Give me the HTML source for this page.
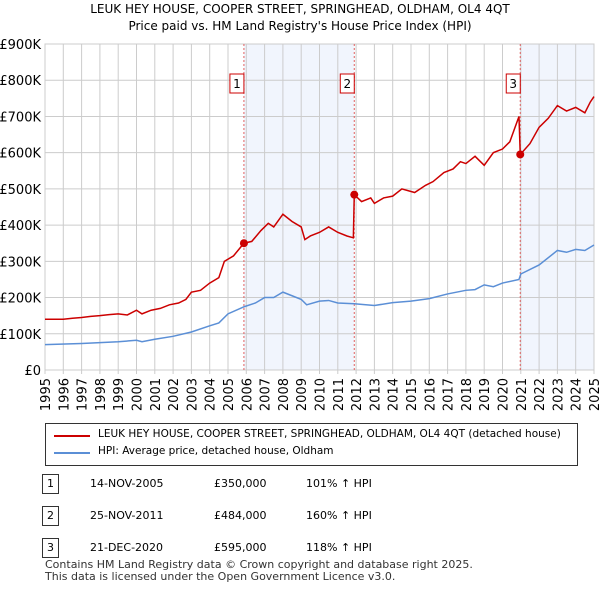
<!DOCTYPE html>
<html><head><meta charset="utf-8"><style>
body{margin:0;background:#fff;font-family:"DejaVu Sans","Liberation Sans",sans-serif;}
#wrap{position:relative;width:600px;height:590px;overflow:hidden}
.t{position:absolute;font-size:12px;color:#000;white-space:nowrap}
svg text{font-family:"DejaVu Sans","Liberation Sans",sans-serif}
</style></head><body><div id="wrap">
<div class="t" style="left:0;width:600px;text-align:center;top:2px;font-size:12px">LEUK HEY HOUSE, COOPER STREET, SPRINGHEAD, OLDHAM, OL4 4QT</div>
<div class="t" style="left:0;width:600px;text-align:center;top:19px;font-size:12px">Price paid vs. HM Land Registry's House Price Index (HPI)</div>
<svg id="plot" width="600" height="420" style="position:absolute;left:0;top:0"></svg>
<div style="position:absolute;left:45px;top:423px;width:531px;height:41px;border:1px solid #333;background:#fff">
<div style="position:absolute;left:8px;top:11px;width:36px;border-top:2px solid #cc0000"></div>
<div class="t" style="left:52px;top:4px;font-size:10.5px">LEUK HEY HOUSE, COOPER STREET, SPRINGHEAD, OLDHAM, OL4 4QT (detached house)</div>
<div style="position:absolute;left:8px;top:28px;width:36px;border-top:2px solid #5b8fd6"></div>
<div class="t" style="left:52px;top:21px;font-size:10.5px">HPI: Average price, detached house, Oldham</div>
</div>
<div id="tbl"></div>
<div class="t" style="left:45px;top:559px;font-size:11px;color:#333;line-height:12px">Contains HM Land Registry data © Crown copyright and database right 2025.<br>This data is licensed under the Open Government Licence v3.0.</div>
</div>
<script>
const redX=[1995,1996,1996.5,1997,1997.5,1998,1998.5,1999,1999.5,2000,2000.3,2000.8,2001.3,2001.8,2002.3,2002.7,2003,2003.5,2004,2004.5,2004.8,2005.3,2005.87,2006.3,2006.8,2007.2,2007.5,2008,2008.5,2009,2009.2,2009.5,2010,2010.5,2011,2011.5,2011.85,2011.9,2012.3,2012.8,2013,2013.5,2014,2014.5,2015.2,2015.8,2016.2,2016.8,2017.3,2017.7,2018,2018.5,2019,2019.5,2020,2020.4,2020.9,2020.97,2021.5,2022,2022.5,2023,2023.5,2024,2024.5,2024.8,2025];
const redY=[140,140,143,145,148,150,153,155,152,165,155,165,170,180,185,195,215,220,240,255,300,315,350,355,385,405,395,430,410,395,360,370,380,395,380,370,365,484,465,475,460,475,480,500,490,510,520,545,555,575,570,590,565,600,610,630,700,595,625,670,695,730,715,725,710,740,755];
const hpiX=[1995,1997,1999,2000,2000.3,2001,2002,2003,2004,2004.5,2005,2005.9,2006.5,2007,2007.5,2008,2008.5,2009,2009.3,2010,2010.5,2011,2011.9,2013,2014,2015,2016,2017,2018,2018.5,2019,2019.5,2020,2020.9,2021,2022,2023,2023.5,2024,2024.5,2025];
const hpiY=[70,73,78,82,78,85,93,105,122,130,155,175,185,200,200,215,205,195,180,190,192,185,183,178,186,190,197,210,220,222,235,230,240,250,265,290,330,325,333,330,345];
const saleX=[2005.87,2011.9,2020.97];
const saleY=[350,484,595];
const saleLabels=["1","2","3"];
const saleDates=["14-NOV-2005","25-NOV-2011","21-DEC-2020"];
const salePrices=["£350,000","£484,000","£595,000"];
const saleHpi=["101% ↑ HPI","160% ↑ HPI","118% ↑ HPI"];
const yTicks=[0,100,200,300,400,500,600,700,800,900];
const yTickLabels=["£0","£100K","£200K","£300K","£400K","£500K","£600K","£700K","£800K","£900K"];
const xTicks=[1995,1996,1997,1998,1999,2000,2001,2002,2003,2004,2005,2006,2007,2008,2009,2010,2011,2012,2013,2014,2015,2016,2017,2018,2019,2020,2021,2022,2023,2024,2025];
const X0=45,X1=594,Y0=370,Y1=44;
const xs=v=>X0+(v-1995)/30*(X1-X0);
const ys=v=>Y0-v/900*(Y0-Y1);
const svg=document.getElementById('plot');const NS='http://www.w3.org/2000/svg';
function mk(t,a){const e=document.createElementNS(NS,t);for(const k in a)e.setAttribute(k,a[k]);svg.appendChild(e);return e;}
let e;
e=mk('rect',{x:xs(saleX[0]),y:Y1,width:xs(saleX[1])-xs(saleX[0]),height:Y0-Y1,fill:'#eef3fc',opacity:0.8});


e=mk('rect',{x:xs(saleX[2]),y:Y1,width:X1-xs(saleX[2]),height:Y0-Y1,fill:'#eef3fc',opacity:0.8});


yTicks.forEach((v,i)=>{
e=mk('line',{x1:X0,x2:X1,y1:ys(v),y2:ys(v),stroke:'#ccc'});


e=mk('text',{x:X0-4,y:ys(v)+5,'text-anchor':'end','font-size':13,fill:'#000'});e.textContent=yTickLabels[i];


});
xTicks.forEach(v=>{
e=mk('line',{x1:xs(v),x2:xs(v),y1:Y1,y2:Y0+4,stroke:'#ccc'});


const tx=xs(v)+5,ty=Y0+8;
e=mk('text',{x:tx,y:ty,'text-anchor':'end','font-size':13,fill:'#000',transform:`rotate(-90 ${tx} ${ty})`});e.textContent=v;


});
e=mk('rect',{x:X0,y:Y1,width:X1-X0,height:Y0-Y1,fill:'none',stroke:'#ccc'});


saleX.forEach((v,i)=>{
e=mk('line',{x1:xs(v),x2:xs(v),y1:Y1,y2:Y0,stroke:'#e06060','stroke-dasharray':'2,2'});


e=mk('rect',{x:xs(v)-14,y:74,width:14,height:19,fill:'#fff',stroke:'#cc0000'});


e=mk('text',{x:xs(v)-7,y:88,'text-anchor':'middle','font-size':12});e.textContent=saleLabels[i];


});
e=mk('polyline',{points:hpiX.map((v,i)=>xs(v)+','+ys(hpiY[i])).join(' '),fill:'none',stroke:'#5b8fd6','stroke-width':1.5});


e=mk('polyline',{points:redX.map((v,i)=>xs(v)+','+ys(redY[i])).join(' '),fill:'none',stroke:'#cc0000','stroke-width':1.5});


saleX.forEach((v,i)=>{
e=mk('circle',{cx:xs(v),cy:ys(saleY[i]),r:4,fill:'#cc0000'});


});
const tbl=document.getElementById('tbl');
saleLabels.forEach((l,i)=>{
const top=474+i*32;
const r=document.createElement('div');


r.innerHTML=`<div style="position:absolute;left:42px;top:${top}px;width:15px;height:18px;border:1px solid #333;font-size:11px;text-align:center;line-height:18px">${l}</div>
<div class="t" style="left:90px;top:${top+3}px;font-size:11px">${saleDates[i]}</div>
<div class="t" style="left:214px;top:${top+3}px;font-size:11px">${salePrices[i]}</div>
<div class="t" style="left:306px;top:${top+3}px;font-size:11px">${saleHpi[i]}</div>`;
tbl.appendChild(r);
});
</script></body></html>
